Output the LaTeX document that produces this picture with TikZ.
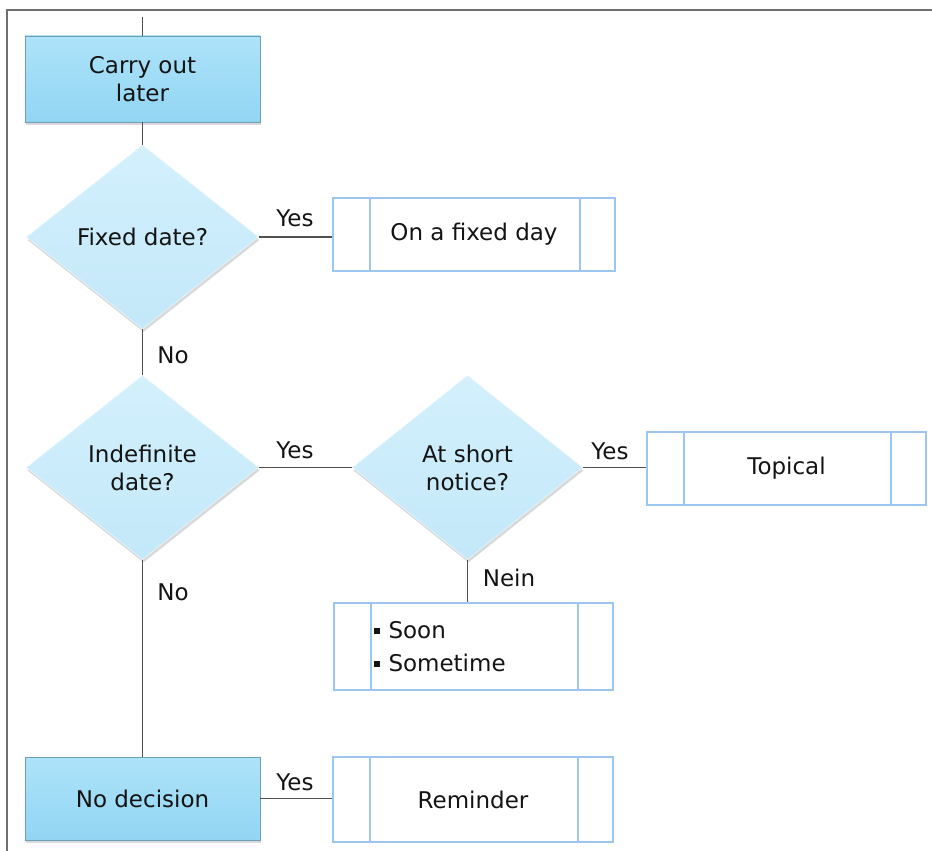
\documentclass[tikz,border=0pt]{standalone}
\usepackage{fontspec}
\setmainfont{DejaVu Sans}
\usetikzlibrary{shapes.geometric,shadows}
\definecolor{procA}{HTML}{ADE3F9}
\definecolor{procB}{HTML}{92D5F3}
\definecolor{diaA}{HTML}{D3F0FC}
\definecolor{diaB}{HTML}{C3E8F9}
\definecolor{subBorder}{HTML}{9DC5F2}
\definecolor{lineGray}{HTML}{505050}
\definecolor{frameGray}{HTML}{707070}
\tikzset{
  txt/.style={font=\fontsize{23}{28}\selectfont, text=black!92},
  proc/.style={txt, draw=procB!75!black, line width=0.4pt, top color=procA, bottom color=procB,
    minimum width=235pt, align=center, inner sep=0pt,
    drop shadow={opacity=0.3, shadow xshift=1pt, shadow yshift=-3pt}},
  decide/.style={txt, diamond, draw=white!60!diaB, line width=0.6pt, top color=diaA, bottom color=diaB,
    minimum width=232pt, minimum height=184pt, inner sep=0pt, align=center,
    drop shadow={opacity=0.3, shadow xshift=1pt, shadow yshift=-3pt}},
  subproc/.style={txt, draw=subBorder, line width=2pt, fill=white, inner sep=0pt, align=center,
    path picture={
      \draw[subBorder, line width=2pt]
        ([xshift=37pt]path picture bounding box.north west) -- ([xshift=37pt]path picture bounding box.south west)
        ([xshift=-35pt]path picture bounding box.north east) -- ([xshift=-35pt]path picture bounding box.south east);
    }},
  conn/.style={draw=lineGray, line width=1.4pt},
  lab/.style={txt}
}
\newcommand{\bulletsq}{\rule[4pt]{6pt}{6pt}\hspace{9pt}}
\begin{document}
\begin{tikzpicture}[x=1pt, y=-1pt]
\useasboundingbox (0,0) rectangle (932,851);
\draw[frameGray, line width=1.2pt] (7,851) -- (7,10) -- (932,10);

\coordinate (top) at (142.5,17);
\node[proc, minimum height=86pt] (carry) at (142.5,79) {Carry out\\later};
\node[decide] (fixed) at (142.5,237) {Fixed date?};
\node[subproc, minimum width=282pt, minimum height=73pt] (fday) at (474,234.5) {On a fixed day};
\node[decide] (indef) at (142.5,467.5) {Indefinite\\date?};
\node[decide, minimum width=230pt] (short) at (467.5,467.5) {At short\\notice?};
\node[subproc, minimum width=279pt, minimum height=73pt] (topical) at (786.5,468.5) {Topical};
\node[subproc, minimum width=279pt, minimum height=87pt, text width=200pt, align=left,
      font=\fontsize{23}{33}\selectfont] (soon) at (473.5,646.5)
  {\bulletsq Soon\\\bulletsq Sometime};
\node[proc, minimum height=83pt] (nodec) at (142.5,798.5) {No decision};
\node[subproc, minimum width=280pt, minimum height=85pt] (remind) at (473,799.5) {Reminder};

\draw[conn] (top) -- (carry.north);
\draw[conn] (carry.south) -- (fixed.north);
\draw[conn] (fixed.east) -- (fixed.east -| fday.west);
\draw[conn] (fixed.south) -- (indef.north);
\draw[conn] (indef.east) -- (short.west);
\draw[conn] (short.east) -- (short.east -| topical.west);
\draw[conn] (short.south) -- (short.south |- soon.north);
\draw[conn] (indef.south) -- (nodec.north);
\draw[conn] (nodec.east) -- (nodec.east -| remind.west);

\node[lab] (y1) at (295,218) {Yes};
\node[lab] (n1) at (173,355) {No};
\node[lab] (y2) at (295,450) {Yes};
\node[lab] (y3) at (610,451) {Yes};
\node[lab] (n3) at (509,578) {Nein};
\node[lab] (n2) at (173,592) {No};
\node[lab] (y4) at (295,782) {Yes};
\end{tikzpicture}
\end{document}
